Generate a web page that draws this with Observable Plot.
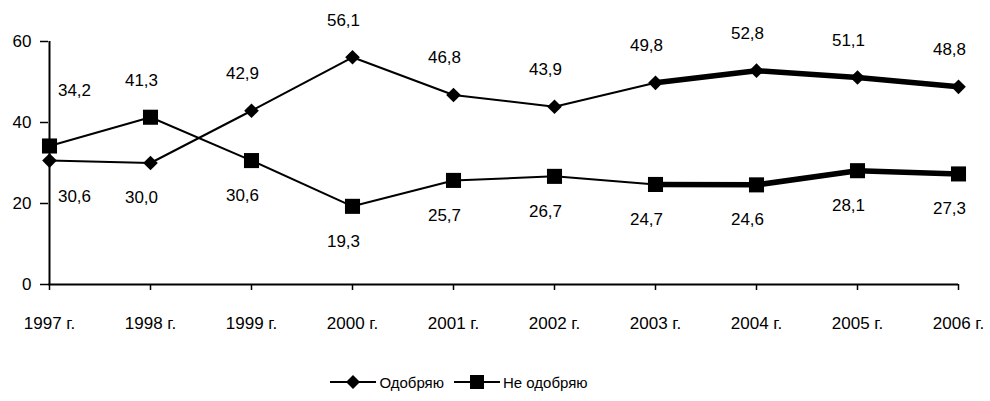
<!DOCTYPE html>
<html>
<head>
<meta charset="utf-8">
<script src="https://cdn.jsdelivr.net/npm/d3@7"></script>
<script src="https://cdn.jsdelivr.net/npm/@observablehq/plot@0.6"></script>
<style>
  html, body { margin: 0; padding: 0; background: #fff; }
  body { width: 990px; height: 401px; overflow: hidden; font-family: "Liberation Sans", Arial, sans-serif; }
  #legend { display: flex; justify-content: center; align-items: center; gap: 10px; padding-right: 72px; margin-top: 13px; font-size: 15px; color: #000; }
  .item { display: flex; align-items: center; gap: 3px; }
</style>
</head>
<body>
<div id="chart"></div>
<div id="legend"></div>
<script>
const years = ["1997","1998","1999","2000","2001","2002","2003","2004","2005","2006"];
const tickLabels = ["1997 г.","1998 г.","1999 г.","2000 г.","2001 г.","2002 г.","2003 г.","2004 г.","2005 г.","2006 г."];
const seriesNames = ["Одобряю","Не одобряю"];
const approve    = [30.6, 30.0, 42.9, 56.1, 46.8, 43.9, 49.8, 52.8, 51.1, 48.8];
const disapprove = [34.2, 41.3, 30.6, 19.3, 25.7, 26.7, 24.7, 24.6, 28.1, 27.3];
const yTicks = [0, 20, 40, 60];

const FONT = '"Liberation Sans", Arial, sans-serif';
const fmt = v => v.toFixed(1).replace(".", ",");

const rows = [];
years.forEach((yr, i) => {
  rows.push({year: yr, v: approve[i], other: disapprove[i], s: seriesNames[0], i});
  rows.push({year: yr, v: disapprove[i], other: approve[i], s: seriesNames[1], i});
});
const symbolOf = {[seriesNames[0]]: "diamond2", [seriesNames[1]]: "square"};
const rOf = {[seriesNames[0]]: 6.6, [seriesNames[1]]: 8.5};

function labels(filter, dx, dy) {
  return Plot.text(rows.filter(filter), {
    x: "year", y: "v", text: d => fmt(d.v), dx, dy,
    fontSize: 17, fill: "#000", fontFamily: FONT
  });
}

const chart = Plot.plot({
  width: 990, height: 360,
  marginLeft: 48, marginRight: 32, marginTop: 41, marginBottom: 76,
  style: {fontFamily: FONT, color: "#000", background: "#fff"},
  x: {type: "point", domain: years, padding: 0},
  y: {domain: [0, 60]},
  symbol: {type: "identity"},
  r: {type: "identity"},
  marks: [
    Plot.axisY({ticks: yTicks, tickSize: 8, tickPadding: 9, fontSize: 17, label: null, strokeWidth: 1.5}),
    Plot.axisX({tickSize: 6, tickPadding: 26, fontSize: 17, label: null, strokeWidth: 1.5,
      tickFormat: d => tickLabels[years.indexOf(d)]}),
    Plot.ruleY([0], {stroke: "#000", strokeWidth: 2}),
    Plot.ruleX([years[0]], {y1: 0, y2: 60, stroke: "#000", strokeWidth: 2}),
    Plot.line(rows, {x: "year", y: "v", z: "s", stroke: "#000", strokeWidth: 2}),
    Plot.line(rows.filter(d => d.i >= 6), {x: "year", y: "v", z: "s", stroke: "#000", strokeWidth: 5.5}),
    Plot.dot(rows, {x: "year", y: "v", symbol: d => symbolOf[d.s], r: d => rOf[d.s], fill: "#000", stroke: "none"}),
    labels(d => d.v > d.other && d.i === 0, 25, -55),
    labels(d => d.v > d.other && d.i > 0, -9, -37),
    labels(d => d.v <= d.other && d.i === 0, 25, 36),
    labels(d => d.v <= d.other && d.i > 0, -9, 35)
  ]
});
document.getElementById("chart").appendChild(chart);

// legend
const leg = document.getElementById("legend");
seriesNames.forEach(name => {
  const item = document.createElement("div");
  item.className = "item";
  const sym = name === seriesNames[0]
    ? '<path d="M23,2 L30,9 L23,16 L16,9 Z" fill="#000"/>'
    : '<rect x="16" y="2" width="14" height="14" fill="#000"/>';
  item.innerHTML = `<svg width="46" height="18"><line x1="0" y1="9" x2="46" y2="9" stroke="#000" stroke-width="2"/>${sym}</svg><span>${name}</span>`;
  leg.appendChild(item);
});
</script>
</body>
</html>
